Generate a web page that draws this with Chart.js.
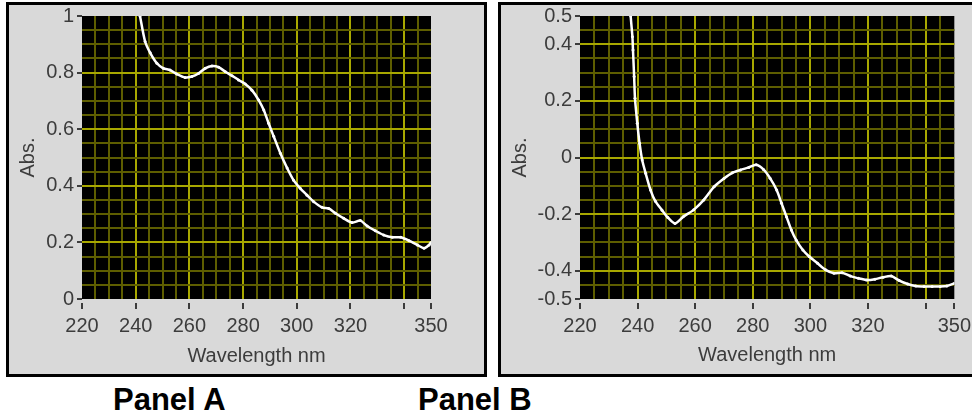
<!DOCTYPE html>
<html>
<head>
<title>Absorbance spectra</title>
<style>
  body { margin: 0; width: 972px; height: 416px; background: #fff; overflow: hidden; position: relative; }
  .frame { position: absolute; box-sizing: border-box; border: 3px solid #000; background: #d9d9d9; }
  .frame canvas { position: absolute; left: 0; top: -5px; }
  .caption { position: absolute; top: 382px; font: bold 31px "Liberation Sans", Arial, sans-serif; color: #000; }
</style>
</head>
<body>

<div class="frame" style="left:6px; top:2px; width:481px; height:375px;">
    <canvas id="chartA" width="475" height="374"></canvas>
</div>
<div class="frame" style="left:498px; top:2px; width:481px; height:375px;">
    <canvas id="chartB" width="474" height="373"></canvas>
</div>
<div class="caption" style="left:113px;">Panel A</div>
<div class="caption" style="left:418px;">Panel B</div>

<script src="https://cdn.jsdelivr.net/npm/chart.js"></script>

<script>

    // wavelength axis, shared by both spectra
    const xTickLabels = [220, 240, 260, 280, 300, 320, 350];
    const xTickMarks = [220, 240, 260, 280, 300, 320, 340, 350];

    // Panel A spectrum
    const wavelengthA = [241.0, 241.6, 243.5, 245.4, 247.9, 250.3, 252.8, 255.3, 258.4, 260.9,
        263.4, 265.9, 268.4, 270.9, 273.4, 275.9, 278.3, 280.8, 283.3, 285.8,
        287.7, 289.5, 291.4, 293.9, 296.4, 298.8, 301.3, 303.8, 306.3, 309.4,
        311.9, 314.4, 317.5, 320.6, 323.7, 326.2, 329.3, 332.4, 335.6, 338.7,
        341.8, 344.9, 347.4, 349.3, 350.0];
    const absA = [1.03, 1.00, 0.91, 0.87, 0.833, 0.815, 0.809, 0.795, 0.783, 0.786,
        0.797, 0.815, 0.823, 0.819, 0.803, 0.789, 0.774, 0.760, 0.738, 0.703,
        0.668, 0.621, 0.575, 0.515, 0.463, 0.420, 0.391, 0.367, 0.344, 0.324,
        0.320, 0.303, 0.285, 0.270, 0.277, 0.258, 0.241, 0.226, 0.218, 0.218,
        0.206, 0.191, 0.179, 0.191, 0.200];
    const yLabelsA = [0, 0.2, 0.4, 0.6, 0.8, 1];

    // Panel B spectrum
    const wavelengthB = [237.4, 237.6, 238.2, 238.4, 238.8, 239.1, 239.9, 240.7, 241.6, 242.8,
        244.5, 246.2, 248.5, 250.5, 253.0, 256.0, 259.5, 263.0, 266.6, 270.0,
        272.9, 275.7, 278.6, 281.2, 283.7, 286.0, 288.3, 290.0, 291.7, 293.4,
        295.1, 297.4, 299.6, 302.5, 305.3, 308.2, 311.0, 313.9, 316.7, 319.6,
        322.4, 325.3, 328.1, 330.9, 333.8, 336.6, 339.5, 342.3, 345.1, 347.4, 350.0];
    const absB = [0.56, 0.50, 0.427, 0.38, 0.286, 0.209, 0.121, 0.050, -0.009, -0.056,
        -0.115, -0.155, -0.186, -0.212, -0.233, -0.208, -0.185, -0.150, -0.103, -0.074,
        -0.054, -0.044, -0.035, -0.026, -0.042, -0.073, -0.115, -0.162, -0.209, -0.256,
        -0.292, -0.327, -0.350, -0.374, -0.397, -0.409, -0.407, -0.419, -0.427, -0.433,
        -0.430, -0.423, -0.419, -0.435, -0.447, -0.454, -0.456, -0.456, -0.456, -0.454, -0.445];
    const yLabelsB = [-0.5, -0.4, -0.2, 0, 0.2, 0.4, 0.5];

    const labelFont = { family: "'Liberation Sans', Arial, sans-serif", size: 20 };
    const textColor = '#3c3c3c';
    const majorGrid = '#a8a800';
    const minorGrid = '#5e5e00';

    // black plot area behind the grid
    const plotBackground = {
        id: 'plotBackground',
        beforeDraw(chart) {
            const {ctx, chartArea: a} = chart;
            ctx.save();
            ctx.fillStyle = '#000';
            ctx.fillRect(a.left, a.top, a.right - a.left, a.bottom - a.top);
            ctx.restore();
        }
    };

    function stepTicks(min, max, step) {
        const out = [];
        const n = Math.round((max - min) / step);
        for (let i = 0; i <= n; i++) {
            out.push({value: Math.round((min + i * step) * 1000) / 1000});
        }
        return out;
    }

    function isMajor(v, every) {
        return Math.round(v * 100) % Math.round(every * 100) === 0;
    }

    function makeChart(id, xs, ys, yMin, yMax, yLabels, box) {
        const ctx = document.getElementById(id);

        const points = xs.map((x, i) => ({x: x, y: ys[i]}));

        const config = {
            type: 'line',
            data: {
                datasets: [{
                    data: points,
                    borderColor: '#ffffff',
                    borderWidth: 2.5,
                    pointRadius: 1.5,
                    pointBorderWidth: 0,
                    pointBackgroundColor: '#ffffff',
                    tension: 0.25
                }]
            },
            options: {
                responsive: false,
                animation: false,
                layout: { padding: { left: 0, top: 16, right: box.right, bottom: 0 } },
                plugins: {
                    legend: { display: false },
                    tooltip: { enabled: false }
                },
                scales: {
                    x: {
                        type: 'linear',
                        min: 220,
                        max: 350,
                        afterBuildTicks: s => { s.ticks = stepTicks(220, 350, 5); },
                        afterFit: s => { s.height = box.xHeight; },
                        border: { display: false },
                        grid: {
                            color: c => (c.tick.value === 220 || c.tick.value === 350) ? 'rgba(0,0,0,0)'
                                : (isMajor(c.tick.value, 20) ? majorGrid : minorGrid),
                            lineWidth: 2,
                            tickColor: c => xTickMarks.includes(c.tick.value) ? textColor : 'rgba(0,0,0,0)',
                            tickLength: 11,
                            tickWidth: 2,
                            tickBorderDash: [0, 4, 6, 100]
                        },
                        ticks: {
                            autoSkip: false,
                            maxRotation: 0,
                            padding: 4,
                            color: textColor,
                            font: labelFont,
                            callback: v => xTickLabels.includes(v) ? String(v) : ''
                        },
                        title: {
                            display: true,
                            text: 'Wavelength nm',
                            color: textColor,
                            font: labelFont,
                            padding: { top: 0, bottom: 6 }
                        }
                    },
                    y: {
                        type: 'linear',
                        min: yMin,
                        max: yMax,
                        afterBuildTicks: s => { s.ticks = stepTicks(yMin, yMax, 0.05); },
                        afterFit: s => { s.width = box.yWidth; },
                        border: { display: false },
                        grid: {
                            color: c => (c.tick.value === yMin || c.tick.value === yMax) ? 'rgba(0,0,0,0)'
                                : (isMajor(c.tick.value, 0.2) ? majorGrid : minorGrid),
                            lineWidth: 2,
                            tickColor: c => yLabels.includes(c.tick.value) ? textColor : 'rgba(0,0,0,0)',
                            tickLength: 5,
                            tickWidth: 2
                        },
                        ticks: {
                            autoSkip: false,
                            padding: 3,
                            color: textColor,
                            font: labelFont,
                            callback: v => yLabels.includes(v) ? String(v) : ''
                        },
                        title: {
                            display: true,
                            text: 'Abs.',
                            color: textColor,
                            font: labelFont,
                            padding: { top: 7, bottom: 0 }
                        }
                    }
                }
            },
            plugins: [plotBackground]
        };

        return new Chart(ctx, config);
    }

    makeChart('chartA', wavelengthA, absA, 0, 1, yLabelsA,
        { right: 53, xHeight: 75, yWidth: 73 });
    makeChart('chartB', wavelengthB, absB, -0.5, 0.5, yLabelsB,
        { right: 13, xHeight: 74, yWidth: 79 });

</script>

</body>
</html>
